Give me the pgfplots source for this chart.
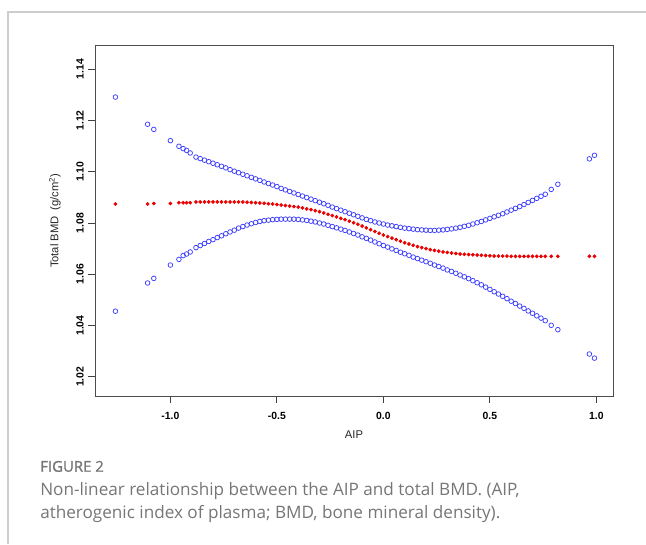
\documentclass[border=0pt]{standalone}
\usepackage{fontspec}
\setmainfont{Liberation Sans}
\newfontfamily\capfont{Open Sans}
\newfontfamily\capfonthead[FakeBold=1.3]{Open Sans}
\usepackage{pgfplots}
\usepackage{pgfplotstable}
\pgfplotsset{compat=1.18}
\definecolor{ptblue}{RGB}{60,60,255}
\definecolor{ptred}{RGB}{235,0,0}
\definecolor{capgray}{RGB}{118,118,118}
\definecolor{framegray}{RGB}{205,205,205}

% columns: AIP, lower CI, fitted, upper CI
\pgfplotstableread{
x lo fit hi
-1.258 1.0456 1.0874 1.1291
-1.107 1.0566 1.0874 1.1185
-1.078 1.0584 1.0876 1.1165
-1.000 1.0636 1.0876 1.1121
-0.960 1.0658 1.0879 1.1099
-0.940 1.0673 1.0879 1.1090
-0.924 1.0679 1.0879 1.1083
-0.907 1.0687 1.0879 1.1073
-0.88 1.0704 1.0882 1.1057
-0.86 1.0712 1.0882 1.1051
-0.84 1.0720 1.0882 1.1045
-0.82 1.0728 1.0882 1.1039
-0.80 1.0735 1.0882 1.1033
-0.78 1.0743 1.0882 1.1027
-0.76 1.0750 1.0882 1.1021
-0.74 1.0758 1.0882 1.1015
-0.72 1.0765 1.0882 1.1008
-0.70 1.0772 1.0882 1.1002
-0.68 1.0780 1.0882 1.0996
-0.66 1.0786 1.0882 1.0990
-0.64 1.0792 1.0881 1.0984
-0.62 1.0797 1.0880 1.0978
-0.60 1.0802 1.0879 1.0972
-0.58 1.0806 1.0878 1.0966
-0.56 1.0809 1.0877 1.0960
-0.54 1.0811 1.0875 1.0954
-0.52 1.0813 1.0874 1.0948
-0.50 1.0814 1.0872 1.0942
-0.48 1.0815 1.0870 1.0935
-0.46 1.0815 1.0868 1.0929
-0.44 1.0815 1.0866 1.0923
-0.42 1.0815 1.0864 1.0917
-0.40 1.0814 1.0862 1.0911
-0.38 1.0812 1.0859 1.0905
-0.36 1.0810 1.0855 1.0899
-0.34 1.0807 1.0852 1.0893
-0.32 1.0804 1.0848 1.0887
-0.30 1.0800 1.0844 1.0881
-0.28 1.0796 1.0839 1.0875
-0.26 1.0791 1.0834 1.0869
-0.24 1.0786 1.0829 1.0862
-0.22 1.0781 1.0824 1.0856
-0.20 1.0776 1.0818 1.0850
-0.18 1.0771 1.0813 1.0844
-0.16 1.0765 1.0807 1.0838
-0.14 1.0759 1.0801 1.0832
-0.12 1.0753 1.0795 1.0826
-0.10 1.0746 1.0788 1.0820
-0.08 1.0740 1.0781 1.0814
-0.06 1.0733 1.0774 1.0809
-0.04 1.0726 1.0767 1.0804
-0.02 1.0719 1.0760 1.0800
0.00 1.0712 1.0753 1.0796
0.02 1.0706 1.0747 1.0792
0.04 1.0699 1.0741 1.0789
0.06 1.0693 1.0735 1.0786
0.08 1.0686 1.0729 1.0783
0.10 1.0680 1.0723 1.0780
0.12 1.0674 1.0718 1.0778
0.14 1.0667 1.0713 1.0776
0.16 1.0661 1.0708 1.0774
0.18 1.0655 1.0704 1.0773
0.20 1.0649 1.0700 1.0772
0.22 1.0643 1.0696 1.0771
0.24 1.0636 1.0693 1.0771
0.26 1.0630 1.0690 1.0772
0.28 1.0624 1.0687 1.0773
0.30 1.0617 1.0685 1.0775
0.32 1.0611 1.0683 1.0777
0.34 1.0604 1.0681 1.0780
0.36 1.0597 1.0679 1.0783
0.38 1.0590 1.0678 1.0787
0.40 1.0583 1.0677 1.0791
0.42 1.0575 1.0676 1.0796
0.44 1.0567 1.0675 1.0801
0.46 1.0559 1.0674 1.0806
0.48 1.0550 1.0673 1.0812
0.50 1.0541 1.0672 1.0818
0.52 1.0532 1.0671 1.0824
0.54 1.0523 1.0671 1.0830
0.56 1.0514 1.0671 1.0836
0.58 1.0505 1.0671 1.0843
0.60 1.0495 1.0670 1.0850
0.62 1.0486 1.0670 1.0857
0.64 1.0476 1.0670 1.0864
0.66 1.0467 1.0670 1.0872
0.68 1.0457 1.0670 1.0880
0.70 1.0448 1.0670 1.0888
0.72 1.0438 1.0670 1.0896
0.74 1.0429 1.0670 1.0904
0.76 1.0419 1.0670 1.0912
0.788 1.0401 1.0670 1.0931
0.819 1.0384 1.0670 1.0951
0.967 1.0289 1.0670 1.1050
0.991 1.0273 1.0670 1.1064
}\bmddata

\begin{document}
\begin{tikzpicture}
\path[use as bounding box] (0,0) rectangle (484.5pt,-408pt);
\draw[framegray, line width=0.8pt] (6pt,-408pt) -- (6pt,-9pt) -- (484.5pt,-9pt);

\begin{axis}[
    at={(71.25pt,-33.75pt)},
    anchor=north west,
    scale only axis,
    width=388.5pt,
    height=263.5pt,
    xmin=-1.354, xmax=1.078,
    ymin=1.0124, ymax=1.1494,
    axis line style={black!70, line width=0.6pt},
    xtick={-1,-0.5,0,0.5,1},
    ytick={1.02,1.04,1.06,1.08,1.10,1.12,1.14},
    xtick pos=bottom, ytick pos=left,
    tick align=outside,
    major tick length=5pt,
    tick style={black!75, line width=0.6pt},
    /pgf/number format/assume math mode=true,
    xticklabel style={/pgf/number format/fixed, /pgf/number format/fixed zerofill, /pgf/number format/precision=1, yshift=-3.5pt},
    yticklabel style={/pgf/number format/fixed, /pgf/number format/fixed zerofill, /pgf/number format/precision=2, rotate=90, anchor=south},
    ticklabel style={font=\bfseries\fontsize{7.8}{9}\selectfont},
    xlabel={AIP},
    ylabel={Total BMD\ \ (g/cm\textsuperscript{2})},
    label style={font=\fontsize{8.4}{10}\selectfont, black!85},
    xlabel style={at={(rel axis cs:0.5,0)}, anchor=center, yshift=-29pt},
    ylabel style={at={(rel axis cs:0,0.5)}, anchor=center, yshift=30pt},
    clip=false,
]
\addplot[only marks, mark=o, mark size=1.75pt, ptblue, mark options={line width=0.55pt}] table[x=x, y=hi] {\bmddata};
\addplot[only marks, mark=o, mark size=1.75pt, ptblue, mark options={line width=0.55pt}] table[x=x, y=lo] {\bmddata};
\addplot[only marks, mark=*, mark size=1.2pt, ptred, mark options={draw=ptred, fill=ptred}] table[x=x, y=fit] {\bmddata};
\end{axis}

\node[anchor=base west, inner sep=0pt, text=capgray, font=\capfonthead\fontsize{11.2}{13}\selectfont] at (30pt,-353.8pt) {FIGURE 2};
\node[anchor=base west, inner sep=0pt, text=capgray, font=\capfont\fontsize{12.85}{15}\selectfont] at (30pt,-371.3pt) {Non-linear relationship between the AIP and total BMD. (AIP,};
\node[anchor=base west, inner sep=0pt, text=capgray, font=\capfont\fontsize{12.85}{15}\selectfont] at (30pt,-388.5pt) {atherogenic index of plasma; BMD, bone mineral density).};
\end{tikzpicture}
\end{document}
